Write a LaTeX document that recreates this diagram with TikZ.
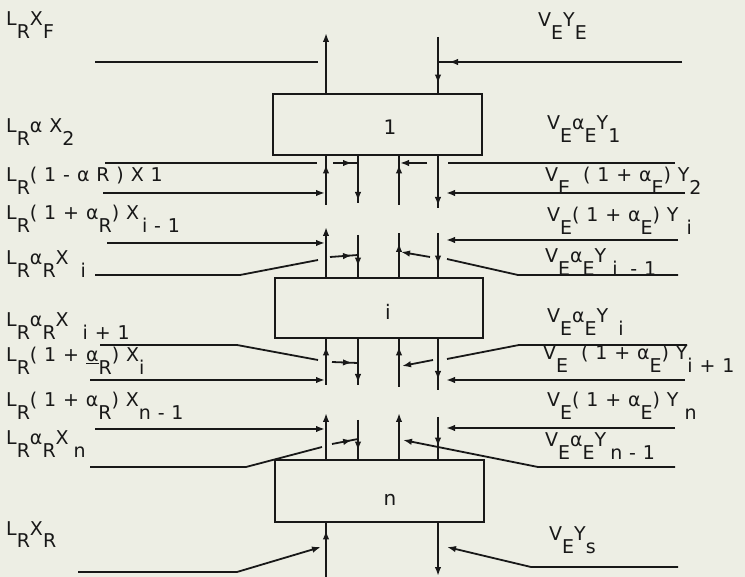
\documentclass[tikz,border=0pt]{standalone}
\usepackage{fontspec}
\setmainfont{DejaVu Sans}[LetterSpace=36]
\usetikzlibrary{arrows.meta,decorations.markings}
\definecolor{paper}{RGB}{237,238,228}
\definecolor{ink}{RGB}{24,24,24}
% subscripts of the stencil lettering sit a full letter below the line
\newcommand\dn[1]{\raisebox{-13pt}{#1}}
\newcommand\gap{\hspace{7pt}}
\begin{document}
\begin{tikzpicture}[x=1pt,y=-1pt,
  flow/.style={draw=ink,line width=1.8pt},
  stage/.style={draw=ink,line width=2.8pt,inner sep=0pt},
  tip/.style={-{Latex[length=9pt,width=6.5pt]}},
  tipat/.style={postaction={decorate,decoration={markings,
      mark=at position #1 with {\arrow{Latex[length=9pt,width=6.5pt]}}}}},
  lbl/.style={anchor=base west,inner sep=0pt,text=ink,font=\fontsize{19}{21}\selectfont},
  num/.style={anchor=center,inner sep=0pt,text=ink,font=\fontsize{20}{22}\selectfont}]
\fill[paper] (0,0) rectangle (745,577);
\useasboundingbox (0,0) rectangle (745,577);

% stages
\node[stage,minimum width=209pt,minimum height=61pt] (b1) at (377.5,124.5) {};
\node[stage,minimum width=208pt,minimum height=60pt] (bi) at (379,308) {};
\node[stage,minimum width=209pt,minimum height=62pt] (bn) at (379.5,491) {};
\node[num] (n1) at (390,127) {1};
\node[num] (ni) at (388,312) {i};
\node[num] (nn) at (390,500) {n};

% stream columns
\coordinate (ca) at (326,0);
\coordinate (cb) at (358,0);
\coordinate (cc) at (399,0);
\coordinate (cd) at (438,0);

% feed and product of stage 1
\draw[flow] (95,62) -- (318,62);
\draw[flow,tip] (b1.north -| ca) -- (326,33);
\draw[flow,tipat=-11pt] (682,62) -- (438,62);
\draw[flow,tipat=-9pt] (438,37) -- (b1.north -| cd);

% between stage 1 and the following stage
\draw[flow] (105,163) -- (317,163);
\draw[flow,tip] (103,193) -- (325,193);
\draw[flow,tipat=-8pt] (326,205) -- (b1.south -| ca);
\draw[flow,tipat=-2pt] (b1.south -| cb) -- (358,203);
\draw[flow,tipat=-8pt] (399,205) -- (b1.south -| cc);
\draw[flow,tipat=-2pt] (b1.south -| cd) -- (438,208);
\draw[flow,tipat=-6pt] (333,163) -- (358,163);
\draw[flow,tip] (427,163) -- (400,163);
\draw[flow] (675,163) -- (448,163);
\draw[flow,tip] (685,193) -- (446,193);

% entering stage i
\draw[flow,tip] (bi.north -| ca) -- (326,227);
\draw[flow,tip] (107,243) -- (325,243);
\draw[flow,tipat=-10pt] (358,235) -- (bi.north -| cb);
\draw[flow] (95,275) -- (240,275) -- (318,260);
\draw[flow,tipat=-6pt] (330,257) -- (358,255);
\draw[flow,tipat=-10pt] (bi.north -| cc) -- (399,233);
\draw[flow,tip] (430,257) -- (401,252);
\draw[flow] (678,275) -- (518,275) -- (447,259);
\draw[flow,tipat=-12pt] (438,233) -- (bi.north -| cd);
\draw[flow,tip] (678,240) -- (446,240);

% leaving stage i
\draw[flow,tipat=-7pt] (326,385) -- (bi.south -| ca);
\draw[flow] (100,345) -- (237,345) -- (318,360);
\draw[flow,tipat=-6pt] (332,362) -- (358,363);
\draw[flow,tip] (90,380) -- (325,380);
\draw[flow,tipat=-2pt] (bi.south -| cb) -- (358,385);
\draw[flow,tipat=-7pt] (399,387) -- (bi.south -| cc);
\draw[flow,tip] (433,360) -- (402,366);
\draw[flow] (687,345) -- (519,345) -- (447,359);
\draw[flow,tipat=-10pt] (bi.south -| cd) -- (438,390);
\draw[flow,tip] (685,380) -- (446,380);

% entering stage n
\draw[flow,tip] (bn.north -| ca) -- (326,413);
\draw[flow,tip] (95,429) -- (325,429);
\draw[flow,tipat=-8pt] (358,420) -- (bn.north -| cb);
\draw[flow,tipat=-6pt] (332,444) -- (358,439);
\draw[flow] (90,467) -- (246,467) -- (322,447);
\draw[flow,tip] (bn.north -| cc) -- (399,413);
\draw[flow,tip] (675,467) -- (538,467) -- (403,440);
\draw[flow,tipat=-12pt] (438,417) -- (bn.north -| cd);
\draw[flow,tip] (675,428) -- (446,428);

% raffinate and solvent at stage n
\draw[flow,tipat=-7pt] (326,577) -- (bn.south -| ca);
\draw[flow,tip] (78,572) -- (237,572) -- (321,547);
\draw[flow,tip] (bn.south -| cd) -- (438,576);
\draw[flow,tip] (678,567) -- (531,567) -- (447,547);

% raffinate-side labels
\node[lbl] (l1) at (6,26) {L\dn{R}X\dn{F}};
\node[lbl] (l2) at (6,133) {L\dn{R}αX\dn{2}};
\node[lbl] (l3) at (6,182) {L\dn{R}(1-\gap αR)\gap X1};
\node[lbl] (l4) at (6,220) {L\dn{R}(1+\gap α\dn{R})X\dn{\hspace{3pt}i-1}};
\node[lbl] (l5) at (6,265) {L\dn{R}α\dn{R}X\dn{\hspace{12pt}i}};
\node[lbl] (l6) at (6,327) {L\dn{R}α\dn{R}X\dn{\hspace{14pt}i+1}};
\node[lbl] (l7) at (6,362) {L\dn{R}(1+\gap\underline{α}\dn{R})X\dn{i}};
\node[lbl] (l8) at (6,407) {L\dn{R}(1+α\dn{R})X\dn{n-1}};
\node[lbl] (l9) at (6,445) {L\dn{R}α\dn{R}X\dn{\hspace{5pt}n}};
\node[lbl] (l10) at (6,535) {L\dn{R}X\dn{R}};

% extract-side labels
\node[lbl] (r1) at (538,27) {V\dn{E}Y\dn{E}};
\node[lbl] (r2) at (547,130) {V\dn{E}α\dn{E}Y\dn{1}};
\node[lbl] (r3) at (545,182) {V\dn{E} (1+α\dn{E})Y\dn{2}};
\node[lbl] (r4) at (547,222) {V\dn{E}(1+α\dn{E})Y\dn{\hspace{8pt}i}};
\node[lbl] (r5) at (545,263) {V\dn{E}α\dn{E}Y\dn{\hspace{6pt}i -1}};
\node[lbl] (r6) at (547,323) {V\dn{E}α\dn{E}Y\dn{\hspace{10pt}i}};
\node[lbl] (r7) at (543,360) {V\dn{E} (1+α\dn{E})Y\dn{i+1}};
\node[lbl] (r8) at (547,407) {V\dn{E}(1+α\dn{E})Y\dn{\hspace{6pt}n}};
\node[lbl] (r9) at (545,447) {V\dn{E}α\dn{E}Y\dn{\hspace{4pt}n-1}};
\node[lbl] (r10) at (549,540) {V\dn{E}Y\dn{s}};
\end{tikzpicture}
\end{document}
